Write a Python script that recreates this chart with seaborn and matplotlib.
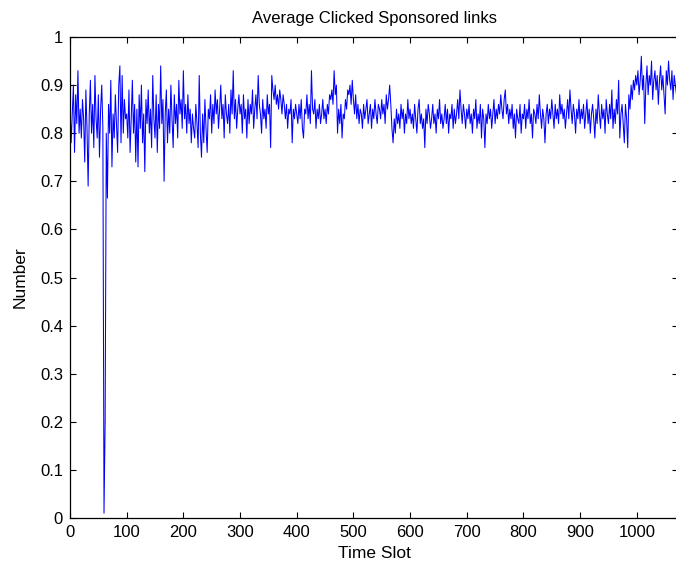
import numpy as np
import pandas as pd
import matplotlib
matplotlib.use("Agg")
import matplotlib.pyplot as plt
import seaborn as sns

# Values, one point every 2 time slots
seg_000 = [0.86, 0.78, 0.84, 0.90, 0.76, 0.88, 0.82, 0.93, 0.80, 0.85,
           0.79, 0.87, 0.83, 0.74, 0.89, 0.81, 0.69, 0.84, 0.91, 0.80,
           0.86, 0.77, 0.92, 0.83, 0.79, 0.88, 0.75, 0.85, 0.90, 0.81,
           0.01, 0.20, 0.80, 0.665, 0.86, 0.80, 0.91, 0.73, 0.84, 0.79,
           0.88, 0.82, 0.76, 0.90, 0.94, 0.78, 0.92, 0.80, 0.87, 0.83]
seg_100 = [0.84, 0.79, 0.89, 0.76, 0.83, 0.91, 0.80, 0.86, 0.74, 0.85,
           0.73, 0.88, 0.81, 0.90, 0.78, 0.84, 0.72, 0.87, 0.82, 0.89,
           0.80, 0.85, 0.77, 0.92, 0.83, 0.79, 0.88, 0.76, 0.86, 0.81,
           0.94, 0.82, 0.87, 0.70, 0.84, 0.89, 0.78, 0.85, 0.80, 0.90,
           0.83, 0.77, 0.88, 0.82, 0.86, 0.79, 0.91, 0.84, 0.87, 0.81]
seg_200 = [0.93, 0.83, 0.86, 0.80, 0.88, 0.82, 0.85, 0.78, 0.84, 0.81,
           0.79, 0.86, 0.82, 0.77, 0.92, 0.80, 0.75, 0.84, 0.78, 0.87,
           0.81, 0.76, 0.85, 0.83, 0.88, 0.80, 0.86, 0.82, 0.89, 0.84,
           0.87, 0.81, 0.85, 0.90, 0.83, 0.86, 0.79, 0.88, 0.84, 0.82,
           0.86, 0.80, 0.89, 0.84, 0.93, 0.83, 0.87, 0.81, 0.85, 0.88]
seg_300 = [0.84, 0.86, 0.80, 0.88, 0.83, 0.85, 0.79, 0.87, 0.82, 0.86,
           0.84, 0.89, 0.81, 0.85, 0.88, 0.83, 0.92, 0.86, 0.84, 0.80,
           0.87, 0.83, 0.85, 0.81, 0.88, 0.84, 0.86, 0.77, 0.92, 0.89,
           0.87, 0.90, 0.86, 0.88, 0.85, 0.89, 0.87, 0.84, 0.88, 0.86,
           0.83, 0.86, 0.81, 0.85, 0.84, 0.87, 0.78, 0.85, 0.83, 0.86]
seg_400 = [0.84, 0.82, 0.86, 0.83, 0.87, 0.81, 0.79, 0.85, 0.84, 0.88,
           0.83, 0.86, 0.82, 0.93, 0.85, 0.84, 0.87, 0.81, 0.85, 0.83,
           0.86, 0.82, 0.84, 0.87, 0.83, 0.85, 0.82, 0.86, 0.84, 0.88,
           0.87, 0.89, 0.86, 0.93, 0.88, 0.90, 0.80, 0.85, 0.82, 0.86,
           0.79, 0.84, 0.83, 0.87, 0.85, 0.89, 0.88, 0.90, 0.86, 0.91]
seg_500 = [0.87, 0.84, 0.88, 0.83, 0.86, 0.82, 0.85, 0.84, 0.81, 0.86,
           0.83, 0.85, 0.87, 0.82, 0.84, 0.86, 0.81, 0.85, 0.83, 0.87,
           0.84, 0.82, 0.86, 0.85, 0.83, 0.87, 0.84, 0.86, 0.82, 0.88,
           0.85, 0.87, 0.90, 0.86, 0.81, 0.78, 0.83, 0.80, 0.85, 0.82,
           0.84, 0.81, 0.86, 0.83, 0.85, 0.80, 0.84, 0.82, 0.87, 0.83]
seg_600 = [0.85, 0.82, 0.84, 0.81, 0.86, 0.83, 0.80, 0.85, 0.87, 0.82,
           0.84, 0.81, 0.83, 0.77, 0.85, 0.82, 0.86, 0.84, 0.81, 0.83,
           0.86, 0.82, 0.84, 0.80, 0.85, 0.83, 0.87, 0.82, 0.84, 0.81,
           0.83, 0.86, 0.82, 0.85, 0.80, 0.84, 0.83, 0.86, 0.81, 0.85,
           0.82, 0.84, 0.87, 0.83, 0.89, 0.85, 0.82, 0.86, 0.84, 0.81]
seg_700 = [0.85, 0.83, 0.86, 0.82, 0.84, 0.80, 0.85, 0.83, 0.87, 0.81,
           0.84, 0.82, 0.86, 0.79, 0.85, 0.83, 0.77, 0.84, 0.82, 0.86,
           0.83, 0.85, 0.81, 0.84, 0.87, 0.82, 0.85, 0.83, 0.86, 0.84,
           0.88, 0.85, 0.83, 0.87, 0.89, 0.84, 0.86, 0.82, 0.85, 0.83,
           0.86, 0.81, 0.84, 0.79, 0.85, 0.83, 0.82, 0.86, 0.80, 0.84]
seg_800 = [0.83, 0.86, 0.81, 0.85, 0.83, 0.87, 0.82, 0.84, 0.79, 0.85,
           0.84, 0.82, 0.86, 0.83, 0.88, 0.84, 0.81, 0.85, 0.83, 0.78,
           0.84, 0.86, 0.82, 0.85, 0.83, 0.87, 0.84, 0.81, 0.86, 0.83,
           0.85, 0.82, 0.88, 0.84, 0.86, 0.83, 0.85, 0.81, 0.84, 0.87,
           0.83, 0.89, 0.85, 0.82, 0.86, 0.84, 0.80, 0.85, 0.83, 0.87]
seg_900 = [0.82, 0.85, 0.83, 0.86, 0.81, 0.84, 0.87, 0.82, 0.85, 0.80,
           0.84, 0.86, 0.83, 0.79, 0.85, 0.82, 0.88, 0.84, 0.81, 0.86,
           0.83, 0.85, 0.80, 0.87, 0.84, 0.82, 0.86, 0.83, 0.89, 0.81,
           0.85, 0.82, 0.87, 0.84, 0.91, 0.79, 0.84, 0.86, 0.82, 0.78,
           0.86, 0.83, 0.77, 0.88, 0.85, 0.90, 0.87, 0.91, 0.89, 0.92]
seg_1000 = [0.90, 0.93, 0.88, 0.91, 0.96, 0.89, 0.92, 0.82, 0.90, 0.94,
            0.88, 0.92, 0.90, 0.95, 0.87, 0.91, 0.93, 0.89, 0.92, 0.86,
            0.91, 0.94, 0.89, 0.92, 0.88, 0.84, 0.93, 0.90, 0.95, 0.91,
            0.89, 0.93, 0.87, 0.92, 0.90, 0.88]

values = (seg_000 + seg_100 + seg_200 + seg_300 + seg_400 + seg_500 +
          seg_600 + seg_700 + seg_800 + seg_900 + seg_1000)
slot_step = 2
time_slots = np.arange(len(values)) * slot_step

x_ticks = [0, 100, 200, 300, 400, 500, 600, 700, 800, 900, 1000]
y_ticks = [0, 0.1, 0.2, 0.3, 0.4, 0.5, 0.6, 0.7, 0.8, 0.9, 1]
y_tick_labels = ["0", "0.1", "0.2", "0.3", "0.4", "0.5", "0.6", "0.7", "0.8", "0.9", "1"]

df = pd.DataFrame({"Time Slot": time_slots, "Number": values})

sns.set_style("ticks")
plt.rcParams["font.family"] = ["Liberation Sans", "DejaVu Sans"]
plt.rcParams["text.color"] = "black"
plt.rcParams["axes.labelcolor"] = "black"

fig = plt.figure(figsize=(6.76, 5.69), dpi=100)
ax = fig.add_axes([70 / 676, 51 / 569, 608 / 676, 481 / 569])

sns.lineplot(data=df, x="Time Slot", y="Number", ax=ax, color="#0000ff",
             linewidth=0.75, estimator=None, sort=False)

ax.set_xlim(0, 1072.7)
ax.set_ylim(0, 1)
ax.set_xticks(x_ticks)
ax.set_yticks(y_ticks)
ax.set_yticklabels(y_tick_labels)
ax.tick_params(direction="in", top=True, right=True, length=4, width=0.8,
               labelsize=12, colors="black", pad=5)
for s in ax.spines.values():
    s.set_visible(True)
    s.set_color("black")
    s.set_linewidth(0.9)

ax.set_title("Average Clicked Sponsored links", fontsize=12, pad=10, color="black")
ax.set_xlabel("Time Slot", fontsize=12.5, labelpad=4, color="black")
ax.set_ylabel("Number", fontsize=12.5, labelpad=9, color="black")

fig.savefig("out.png", dpi=100)
